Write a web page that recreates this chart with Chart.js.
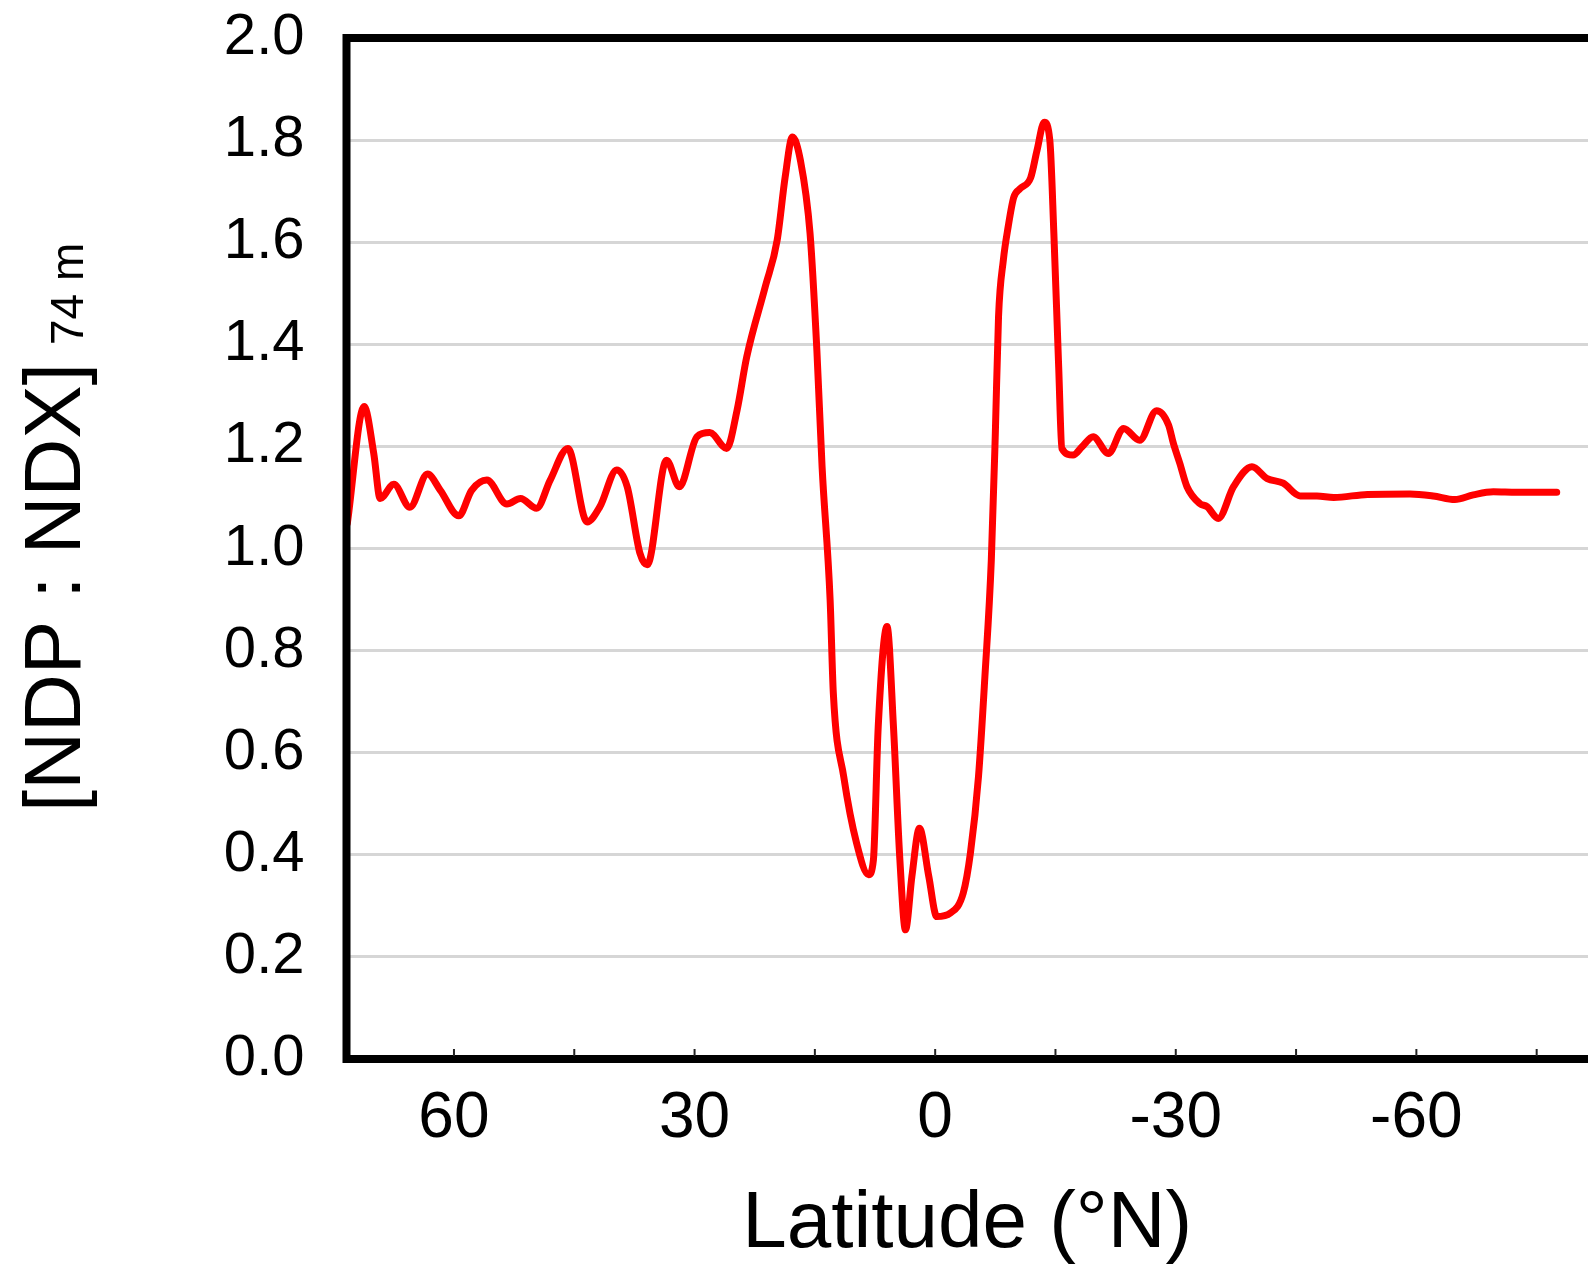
<!DOCTYPE html>
<html>
<head>
<meta charset="utf-8">
<script src="https://cdn.jsdelivr.net/npm/chart.js@4.4.1/dist/chart.umd.min.js"></script>
<style>
  html, body { margin: 0; padding: 0; background: #fff; overflow: hidden; }
  #wrap { width: 1588px; height: 1264px; }
</style>
</head>
<body>
<div id="wrap"><canvas id="myChart" width="1588" height="1264"></canvas></div>
<script>
const latitudes = [
    73.3, 71.2, 70.0, 69.2, 67.5, 65.5, 63.3, 61.7, 59.4, 57.8,
    55.9, 53.4, 51.7, 49.7, 48.0, 45.8, 43.4, 41.8, 39.7, 38.4,
    36.8, 35.9, 33.5, 31.9, 29.7, 28.1, 26.0, 24.7, 23.5, 21.2,
    19.7, 18.7, 17.8, 16.8, 15.6, 14.75, 14.1, 13.1, 12.7, 11.4,
    9.8, 8.3, 7.7, 7.1, 6.0, 5.2, 4.4, 3.7, 2.9, 1.96,
    0.8, -0.2, -1.9, -3.5, -4.4, -5.4, -6.2, -7.0, -7.5, -7.9,
    -8.5, -9.1, -9.8, -10.6, -11.9, -12.7, -13.6, -14.3, -14.8, -15.4,
    -15.8, -17.2, -18.3, -19.7, -21.6, -23.5, -25.5, -27.6, -29.1, -29.7,
    -30.5, -31.4, -33.0, -33.9, -35.3, -37.2, -39.5, -41.4, -43.4, -45.5,
    -47.6, -49.7, -53.9, -59.2, -62.1, -64.8, -67.1, -69.6, -72.5, -77.5
];
// [NDP : NDX] at 74 m
const ratio = [
    1.049, 1.278, 1.186, 1.098, 1.126, 1.081, 1.146, 1.114, 1.064, 1.114,
    1.134, 1.087, 1.098, 1.079, 1.134, 1.196, 1.052, 1.082, 1.154, 1.121,
    0.99, 0.968, 1.173, 1.121, 1.219, 1.227, 1.196, 1.271, 1.375, 1.512,
    1.604, 1.728, 1.806, 1.760, 1.617, 1.388, 1.160, 0.90, 0.717, 0.553,
    0.423, 0.361, 0.39, 0.651, 0.847, 0.651, 0.39, 0.253, 0.358, 0.452,
    0.358, 0.279, 0.286, 0.325, 0.404, 0.553, 0.749, 0.977, 1.225, 1.454,
    1.565, 1.630, 1.688, 1.705, 1.726, 1.780, 1.835, 1.799, 1.617, 1.356,
    1.196, 1.183, 1.199, 1.219, 1.186, 1.235, 1.212, 1.270, 1.242, 1.206,
    1.167, 1.121, 1.088, 1.082, 1.059, 1.121, 1.160, 1.137, 1.128, 1.103,
    1.103, 1.100, 1.106, 1.107, 1.103, 1.096, 1.105, 1.111, 1.110, 1.110
];
const xTicks = [60, 45, 30, 15, 0, -15, -30, -45, -60, -75];
const yTicks = [0, 0.2, 0.4, 0.6, 0.8, 1.0, 1.2, 1.4, 1.6, 1.8, 2.0];

const yTitle = '[NDP : NDX]';
const ySub = '74 m';
const family = "'Liberation Sans', Arial, sans-serif";

const points = latitudes.map((lat, i) => ({ x: lat, y: ratio[i] }));

// frame, inward x tick marks and the y title with its subscript
const frame = {
    id: 'frame',
    afterDraw(chart) {
        const { ctx, chartArea: a, scales: { x } } = chart;
        ctx.save();
        ctx.strokeStyle = '#000';
        ctx.lineWidth = 8;
        ctx.beginPath();
        ctx.moveTo(a.right + 10, a.top);
        ctx.lineTo(a.left, a.top);
        ctx.lineTo(a.left, a.bottom);
        ctx.lineTo(a.right + 10, a.bottom);
        ctx.stroke();

        ctx.lineWidth = 2;
        ctx.strokeStyle = '#222';
        x.ticks.forEach(t => {
            const px = x.getPixelForValue(t.value);
            ctx.beginPath();
            ctx.moveTo(px, a.bottom - 3);
            ctx.lineTo(px, a.bottom - 10);
            ctx.stroke();
        });

        ctx.translate(80, 812);
        ctx.rotate(-Math.PI / 2);
        ctx.fillStyle = '#000';
        ctx.textAlign = 'left';
        ctx.textBaseline = 'alphabetic';
        ctx.font = '80px ' + family;
        ctx.fillText(yTitle, 0, 0);
        const w = ctx.measureText(yTitle).width;
        ctx.font = '46px ' + family;
        ctx.fillText(ySub, w + 18, 3);
        ctx.restore();
    }
};

const config = {
    type: 'line',
    data: {
        datasets: [{
            data: points,
            borderColor: '#ff0000',
            borderWidth: 7,
            pointRadius: 0,
            cubicInterpolationMode: 'monotone',
            borderJoinStyle: 'round',
            borderCapStyle: 'round',
            fill: false
        }]
    },
    options: {
        responsive: false,
        animation: false,
        devicePixelRatio: 1,
        layout: {
            padding: { top: 38, left: 0, right: 0, bottom: 0 }
        },
        plugins: {
            legend: { display: false },
            tooltip: { enabled: false }
        },
        scales: {
            x: {
                type: 'linear',
                reverse: true,
                min: -81.4,
                max: 73.4,
                afterBuildTicks: s => { s.ticks = xTicks.map(v => ({ value: v })); },
                afterFit: s => { s.height = 205; s.paddingLeft = 0; s.paddingRight = 0; },
                ticks: {
                    autoSkip: false,
                    maxRotation: 0,
                    padding: 22,
                    color: '#000',
                    font: { family: family, size: 64 },
                    callback: v => (v % 30 === 0 ? String(v) : '')
                },
                grid: { display: false, drawTicks: false },
                border: { display: false },
                title: {
                    display: true,
                    text: 'Latitude (°N)',
                    color: '#000',
                    font: { family: family, size: 80 },
                    padding: { top: 0, bottom: -9 }
                }
            },
            y: {
                min: 0,
                max: 2,
                afterBuildTicks: s => { s.ticks = yTicks.map(v => ({ value: v })); },
                afterFit: s => { s.width = 346.5; s.paddingTop = 0; s.paddingBottom = 0; },
                ticks: {
                    padding: 42,
                    color: '#000',
                    font: { family: family, size: 58 },
                    callback: v => v.toFixed(1)
                },
                grid: {
                    drawTicks: false,
                    lineWidth: 3,
                    color: c => (c.tick && (c.tick.value === 0 || c.tick.value === 2) ? 'rgba(0,0,0,0)' : '#d6d6d6')
                },
                border: { display: false }
            }
        }
    },
    plugins: [frame]
};

const myChart = new Chart(document.getElementById('myChart'), config);
</script>
</body>
</html>
